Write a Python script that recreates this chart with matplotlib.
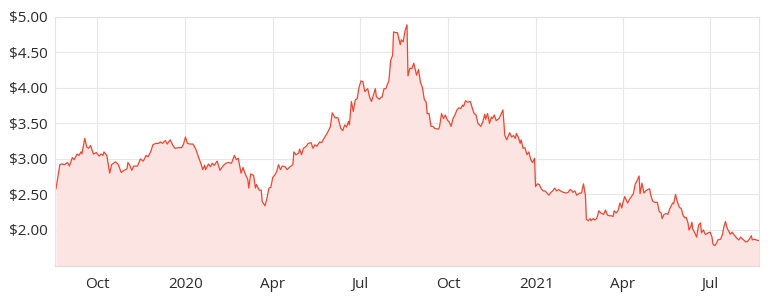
import pandas as pd
import matplotlib
matplotlib.use("Agg")
import matplotlib.pyplot as plt
import matplotlib.dates as mdates
from matplotlib.ticker import FuncFormatter

# Share price. Days are counted from start_date.
start_date = "2019-08-18"
day_offsets = [
    1, 5, 7, 10, 13, 15, 18, 20, 23, 25, 27, 28, 31, 33, 35, 37, 40, 43, 46, 48,
    50, 51, 54, 57, 59, 63, 66, 69, 72, 75, 76, 78, 80, 82, 86, 89,
    92, 95, 97, 100, 102, 105, 108, 110, 112, 115, 117, 120, 123, 125, 129, 132,
    134, 136, 138, 141, 144, 147, 150, 152, 154, 156, 157, 160, 162, 164, 166,
    169, 172, 175, 178, 181, 184, 187,
    189, 191, 194, 196, 198, 201, 202, 204, 207, 209, 210, 213, 215, 216, 219,
    221, 223, 225, 227, 229, 231, 233, 235, 237, 240, 242, 245, 248, 249, 251,
    254, 255, 257, 259, 262, 264, 267, 269, 271, 273, 276, 278, 280,
    284, 287, 289, 292, 295, 298, 300, 302, 304, 306, 307, 309, 311, 313, 315,
    317, 319, 321, 323, 326, 328, 330, 332, 334, 335, 338, 340, 341, 343, 345,
    347, 348, 350, 352, 353, 355, 357, 360, 361, 363, 365, 367, 368, 370, 372, 374,
    377, 379, 381, 383, 385, 387, 388, 390, 392, 394, 396, 400, 401, 403, 405,
    407, 409, 411, 413, 415, 417, 419, 421, 423, 425, 426, 428, 430, 433, 435,
    437, 439, 441, 444, 446, 448, 449, 451, 453, 455, 456, 458, 460, 463, 465,
    467, 469,
    471, 474, 476, 478, 480, 481, 483, 485, 486, 488, 490, 492, 494, 496, 498,
    500, 501, 503, 505, 507, 509, 511, 513, 515, 517, 519, 521, 523, 525, 527,
    530, 533, 535, 537, 539, 540, 542, 544, 547, 549, 551, 553, 554, 556, 558,
    559, 561, 563,
    565, 567, 569, 572, 574, 576, 578, 580, 582, 583, 585, 587, 589, 591, 592,
    594, 597, 599, 601, 603, 605, 606, 609, 610, 612, 614, 616, 618, 620, 621,
    623, 625, 628, 630, 632, 633, 635, 637, 639, 641, 644, 645, 647, 649, 651,
    653, 655, 657,
    658, 660, 661, 663, 664, 665, 667, 669, 671, 673, 674, 676, 678, 679, 681,
    683, 685, 686, 688, 690, 691, 694, 696, 697, 699, 701, 703, 704, 706, 708,
    710, 712, 713, 715, 717, 719, 720, 722, 724, 726, 727, 729, 731, 734,
]
prices = [
    2.58, 2.92, 2.93, 2.92, 2.95, 2.90, 3.02, 2.99, 3.07, 3.05, 3.10, 3.07, 3.29, 3.17, 3.15, 3.19, 3.07, 3.09, 3.04, 3.07,
    3.05, 3.10, 3.05, 2.80, 2.92, 2.96, 2.92, 2.81, 2.84, 2.86, 2.95, 2.91, 2.84, 2.90, 2.90, 3.00,
    2.97, 3.05, 3.03, 3.11, 3.20, 3.22, 3.22, 3.24, 3.22, 3.26, 3.21, 3.27, 3.19, 3.15, 3.16, 3.16,
    3.21, 3.31, 3.22, 3.21, 3.21, 3.13, 3.01, 2.94, 2.85, 2.91, 2.85, 2.93, 2.89, 2.94, 2.91,
    2.97, 2.84, 2.90, 2.94, 2.95, 2.94, 3.05,
    2.99, 3.01, 2.80, 2.88, 2.80, 2.71, 2.59, 2.79, 2.77, 2.59, 2.64, 2.56, 2.56, 2.40, 2.34,
    2.45, 2.59, 2.60, 2.74, 2.77, 2.82, 2.92, 2.85, 2.90, 2.89, 2.85, 2.89, 2.92, 3.10, 3.06,
    3.08, 3.14, 3.06, 3.15, 3.18, 3.22, 3.23, 3.15, 3.20, 3.18, 3.24, 3.23, 3.28,
    3.37, 3.45, 3.65, 3.58, 3.58, 3.43, 3.40, 3.48, 3.45, 3.53, 3.48, 3.81, 3.67, 3.83, 3.85,
    4.01, 4.10, 4.09, 3.95, 3.99, 3.87, 3.81, 3.90, 3.99, 3.88, 3.84, 3.87, 3.87, 3.99, 3.99,
    4.07, 4.09, 4.39, 4.46, 4.79, 4.78, 4.78, 4.61, 4.68, 4.65, 4.81, 4.89, 4.17, 4.28, 4.27, 4.35,
    4.18, 4.26, 4.08, 4.01, 3.84, 3.80, 3.64, 3.64, 3.46, 3.46, 3.43, 3.42, 3.46, 3.64, 3.57,
    3.62, 3.55, 3.52, 3.46, 3.57, 3.62, 3.69, 3.72, 3.71, 3.76, 3.74, 3.82, 3.80, 3.81, 3.72,
    3.64, 3.62, 3.50, 3.46, 3.52, 3.63, 3.56, 3.64, 3.50, 3.59, 3.57, 3.62, 3.54, 3.57, 3.63,
    3.69, 3.33,
    3.27, 3.37, 3.31, 3.33, 3.29, 3.36, 3.31, 3.22, 3.27, 3.15, 3.16, 3.06, 3.10, 2.99, 2.95,
    3.01, 2.61, 2.65, 2.64, 2.58, 2.55, 2.55, 2.52, 2.49, 2.53, 2.55, 2.59, 2.55, 2.57, 2.55,
    2.53, 2.52, 2.53, 2.57, 2.55, 2.53, 2.55, 2.49, 2.52, 2.52, 2.65, 2.49, 2.15, 2.13, 2.16,
    2.13, 2.16, 2.14,
    2.17, 2.27, 2.24, 2.22, 2.28, 2.21, 2.20, 2.20, 2.19, 2.27, 2.24, 2.27, 2.38, 2.31, 2.38,
    2.47, 2.38, 2.43, 2.47, 2.51, 2.65, 2.67, 2.76, 2.51, 2.66, 2.52, 2.55, 2.57, 2.58, 2.50,
    2.41, 2.39, 2.39, 2.26, 2.24, 2.16, 2.22, 2.23, 2.22, 2.30, 2.38, 2.37, 2.50, 2.39, 2.32,
    2.30, 2.20, 2.17,
    2.18, 2.10, 2.00, 2.05, 2.11, 2.01, 1.96, 1.90, 2.07, 2.10, 1.96, 2.00, 1.94, 1.94, 1.96,
    1.97, 1.90, 1.80, 1.78, 1.82, 1.86, 1.87, 1.94, 2.02, 2.12, 2.02, 1.97, 1.94, 1.97, 1.93,
    1.90, 1.87, 1.86, 1.90, 1.87, 1.85, 1.83, 1.84, 1.87, 1.92, 1.86, 1.87, 1.86, 1.85,
]
y_ticks = [2.0, 2.5, 3.0, 3.5, 4.0, 4.5, 5.0]
x_ticks = ["2019-10-01", "2020-01-01", "2020-04-01", "2020-07-01",
           "2020-10-01", "2021-01-01", "2021-04-01", "2021-07-01"]

dates = pd.Timestamp(start_date) + pd.to_timedelta(day_offsets, unit="D")
df = pd.DataFrame({"date": dates, "price": prices})

plt.rcParams["font.family"] = ["Open Sans", "DejaVu Sans"]

fig = plt.figure(figsize=(7.74, 2.96), dpi=100)
ax = fig.add_axes([0.0711, 0.1014, 0.9095, 0.8412])

line_color = "#f2452f"
ax.fill_between(df["date"], df["price"], 1.0, color="#fce4e2", linewidth=0)
ax.plot(df["date"], df["price"], color=line_color, linewidth=0.9)

ax.set_xlim(pd.Timestamp(start_date), df["date"].iloc[-1])
ax.set_ylim(1.493, 5.0)

ax.set_yticks(y_ticks)
ax.yaxis.set_major_formatter(FuncFormatter(lambda v, _: f"${v:.2f}"))
ax.set_xticks(pd.to_datetime(x_ticks))


def month_label(v, _):
    d = mdates.num2date(v)
    return str(d.year) if d.month == 1 else d.strftime("%b")


ax.xaxis.set_major_formatter(FuncFormatter(month_label))

ax.grid(True, color="#e8e8e8", linewidth=0.8)
ax.set_axisbelow(True)
for side in ["left", "right", "top"]:
    ax.spines[side].set_color("#e3e3e3")
    ax.spines[side].set_linewidth(0.8)
ax.spines["bottom"].set_color("#e6d6d6")
ax.spines["bottom"].set_linewidth(0.8)

ax.tick_params(axis="both", length=0, labelsize=11, colors="#2b2b2b")
ax.tick_params(axis="y", pad=5)
ax.tick_params(axis="x", pad=8)

fig.savefig("out.png", dpi=100)
